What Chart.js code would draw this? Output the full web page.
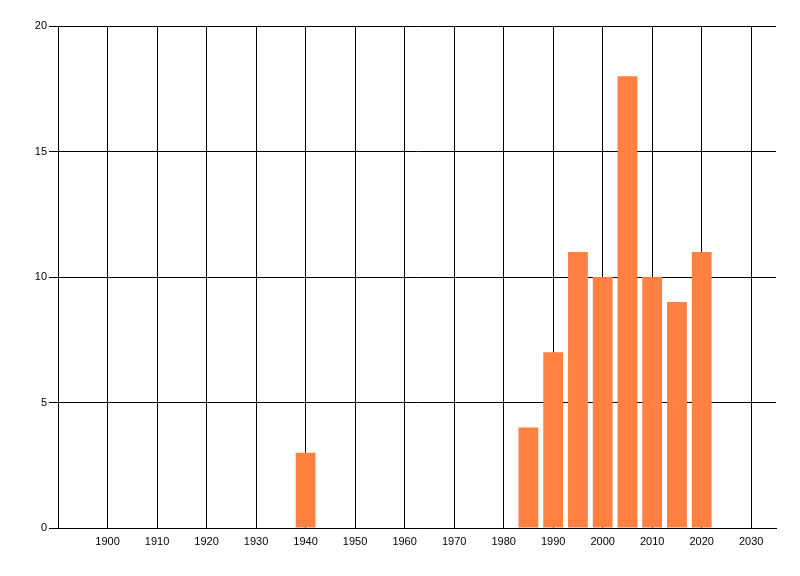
<!DOCTYPE html>
<html>
<head>
<meta charset="utf-8">
<script src="https://cdn.jsdelivr.net/npm/chart.js@4"></script>
<style>
  html, body { margin: 0; padding: 0; background: #fff; }
  #wrap { width: 800px; height: 576px; position: relative; }
</style>
</head>
<body>
<div id="wrap"><canvas id="c" width="800" height="576"></canvas></div>
<script>
const years = [1940, 1985, 1990, 1995, 2000, 2005, 2010, 2015, 2020];
const counts = [3, 4, 7, 11, 10, 18, 10, 9, 11];
const xTickValues = [1900, 1910, 1920, 1930, 1940, 1950, 1960, 1970, 1980, 1990, 2000, 2010, 2020, 2030];
const yTickValues = [0, 5, 10, 15, 20];

const points = years.map((y, i) => ({ x: y, y: counts[i] }));

new Chart(document.getElementById('c'), {
  type: 'bar',
  data: {
    datasets: [{
      data: points,
      backgroundColor: 'rgb(255,128,64)',
      borderWidth: 0,
      barPercentage: 0.8,
      categoryPercentage: 1.0
    }]
  },
  options: {
    responsive: false,
    animation: false,
    devicePixelRatio: 1,
    layout: { padding: { top: 26, right: 24, left: 0, bottom: 0 } },
    plugins: { legend: { display: false }, tooltip: { enabled: false } },
    scales: {
      x: {
        type: 'linear',
        offset: false,
        min: 1890,
        max: 2035,
        afterBuildTicks: s => { s.ticks = xTickValues.map(v => ({ value: v })); },
        afterFit: s => { s.height = 48; },
        ticks: {
          color: '#000',
          font: { family: 'Liberation Sans', size: 11 },
          padding: 7,
          maxRotation: 0,
          autoSkip: false,
          callback: v => String(v)
        },
        grid: { color: '#000', lineWidth: 1, drawTicks: false, offset: false },
        border: { color: '#000', width: 1 }
      },
      y: {
        min: 0,
        max: 20,
        afterBuildTicks: s => { s.ticks = yTickValues.map(v => ({ value: v })); },
        afterFit: s => { s.width = 58; },
        ticks: {
          color: '#000',
          font: { family: 'Liberation Sans', size: 11 },
          padding: 2
        },
        grid: { color: '#000', lineWidth: 1, drawTicks: true, tickLength: 9, tickColor: '#000' },
        border: { color: '#000', width: 1 }
      }
    }
  }
});
</script>
</body>
</html>
